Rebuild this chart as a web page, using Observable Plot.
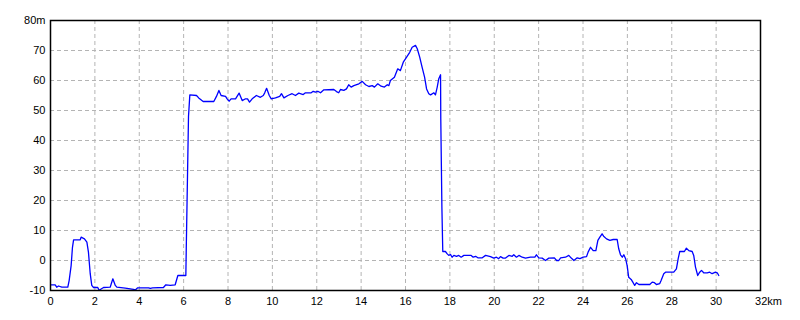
<!DOCTYPE html>
<html><head><meta charset="utf-8">
<script src="https://cdn.jsdelivr.net/npm/d3@7"></script>
<script src="https://cdn.jsdelivr.net/npm/@observablehq/plot@0.6"></script>
<style>body{margin:0;background:#fff}</style>
</head><body><div id="chart"></div>
<script>
const distanceKm = [0.03,0.21,0.28,0.36,0.51,0.78,0.84,0.93,0.99,1.04,1.34,1.38,1.53,1.64,1.71,1.79,1.86,1.94,2.13,2.19,2.39,2.69,2.81,2.92,2.99,3.37,3.74,3.82,3.93,4.42,4.5,4.6,5.09,5.2,5.4,5.62,5.74,5.85,6.1,6.12,6.22,6.28,
6.58,6.68,6.88,7.36,7.48,7.59,7.69,7.89,7.96,8.05,8.14,8.34,8.5,8.64,8.79,8.88,8.97,9.09,9.28,9.46,9.59,9.65,9.74,9.86,9.95,10.14,10.33,10.41,10.52,10.7,10.89,11.04,11.19,11.39,11.49,11.75,11.84,11.94,12.05,12.17,12.32,12.77,12.89,12.99,13.07,13.22,13.34,13.44,13.55,13.67,13.9,14.05,14.2,14.35,14.5,14.6,14.75,14.9,15.05,15.18,15.25,15.32,15.5,15.65,15.77,15.9,16.05,16.19,16.3,16.45,16.53,16.64,16.75,16.86,16.95,17.05,17.13,17.28,17.35,17.43,17.5,17.58,17.59,17.64,17.68,
17.8,17.88,17.95,18.03,18.1,18.18,18.3,18.4,18.51,18.63,18.96,19.05,19.16,19.26,19.46,19.61,19.83,19.98,20.1,20.2,20.28,20.4,20.51,20.66,20.81,20.88,21.0,21.11,21.26,21.41,21.63,21.83,21.9,22.01,22.16,22.31,22.46,22.71,22.81,22.91,22.99,23.21,23.36,23.47,23.59,23.74,23.86,24.01,24.16,24.23,24.34,24.46,24.58,24.67,24.76,24.86,24.93,25.06,25.21,25.36,25.54,25.61,25.69,25.77,25.84,25.92,25.99,26.06,26.17,26.26,26.33,26.41,26.52,27.01,27.12,27.22,27.31,27.46,27.52,27.64,27.72,27.87,28.09,28.21,28.29,28.36,28.57,28.66,28.77,28.92,28.99,29.07,29.17,29.26,29.34,29.44,29.6,29.71,29.82,29.97,30.05,30.12];
const elevationM = [-8.1,-8.1,-8.9,-8.5,-8.9,-8.9,-6.7,-1.7,4.4,6.9,6.9,7.8,7.2,6.1,2.8,-4.4,-8.3,-9.0,-9.0,-9.9,-9.0,-8.9,-6.1,-8.3,-8.9,-9.2,-9.6,-9.8,-9.1,-9.1,-9.3,-9.1,-9.0,-8.1,-8.3,-8.1,-5.0,-5.0,-5.0,4.4,48,55.2,
55.0,54.2,53.0,53.0,54.7,56.7,55.0,54.7,53.9,53.1,53.9,53.9,55.8,53.3,53.9,53.9,52.8,53.9,55.0,54.4,55.0,55.8,57.4,55.0,53.9,54.2,54.7,55.6,54.2,55.0,55.6,55.0,55.8,55.3,55.9,55.9,56.4,56.1,56.4,55.9,56.9,57.0,56.3,55.9,57.0,56.7,57.2,58.6,57.8,58.3,58.9,59.7,58.6,58.0,58.3,57.8,58.9,58.1,57.8,58.6,58.3,60.0,61.1,63.9,63.3,66.1,67.8,69.4,71.1,71.7,70.6,67.8,64.4,61.1,57.2,55.6,55.2,55.9,55.2,57.8,60.6,61.9,47.3,17.8,3.0,
3.0,2.2,1.7,2.0,1.1,1.7,1.4,1.7,1.1,1.7,1.7,1.1,1.4,0.9,0.9,1.7,1.3,0.8,1.1,0.6,1.3,0.8,0.8,1.7,1.4,1.9,1.1,1.7,1.1,0.8,1.1,1.1,1.9,0.9,0.8,0.0,0.8,0.9,0.0,0.0,0.9,1.1,1.7,0.8,0.0,0.9,0.6,1.1,1.3,2.8,4.4,3.3,3.3,6.7,7.8,8.9,8.1,7.2,6.7,7.0,7.0,3.9,1.9,1.1,1.9,0.6,-1.7,-5.6,-6.3,-7.4,-8.3,-7.4,-8.0,-8.0,-7.2,-7.4,-8.0,-7.7,-6.7,-4.4,-3.9,-3.9,-3.9,-2.8,0.6,3.0,3.0,4.1,3.3,3.0,1.7,-2.2,-5.0,-3.9,-3.3,-4.1,-4.1,-3.9,-4.4,-3.9,-4.1,-5.0];
const xTicks = [0,2,4,6,8,10,12,14,16,18,20,22,24,26,28,30];
const xLastTick = [32];
const yTicks = [-10,0,10,20,30,40,50,60,70,80];
const xUnit = "km";
const yUnit = "m";

const data = distanceKm.map((d, i) => ({km: d, m: elevationM[i]}));

const chart = Plot.plot({
  width: 800, height: 320,
  marginLeft: 50, marginRight: 40, marginTop: 20, marginBottom: 30,
  style: {fontFamily: "Liberation Sans, Arial, sans-serif", fontSize: "11px", background: "#fff", color: "#000"},
  x: {domain: [0, 32], label: null},
  y: {domain: [-10, 80], label: null},
  marks: [
    Plot.gridX(xTicks.filter(d => d > 0), {stroke: "#b4b4b4", strokeOpacity: 1, strokeDasharray: "4,3"}),
    Plot.gridY(yTicks.filter(d => d > -10 && d < 80), {stroke: "#b4b4b4", strokeOpacity: 1, strokeDasharray: "4,3"}),
    Plot.line(data, {x: "km", y: "m", stroke: "#0000ff", strokeWidth: 1.3}),
    Plot.frame({stroke: "#000", strokeWidth: 1.5}),
    Plot.axisX(xTicks, {tickSize: 0, tickPadding: 7, tickFormat: d => String(d), fill: "#000", label: null}),
    Plot.axisX(xLastTick, {tickSize: 0, tickPadding: 7, tickFormat: d => d + xUnit, dx: 8, fill: "#000", label: null}),
    Plot.axisY(yTicks, {tickSize: 0, tickPadding: 5, tickFormat: d => d === 80 ? d + yUnit : String(d), fill: "#000", label: null})
  ]
});
document.getElementById("chart").appendChild(chart);
</script>
</body></html>
